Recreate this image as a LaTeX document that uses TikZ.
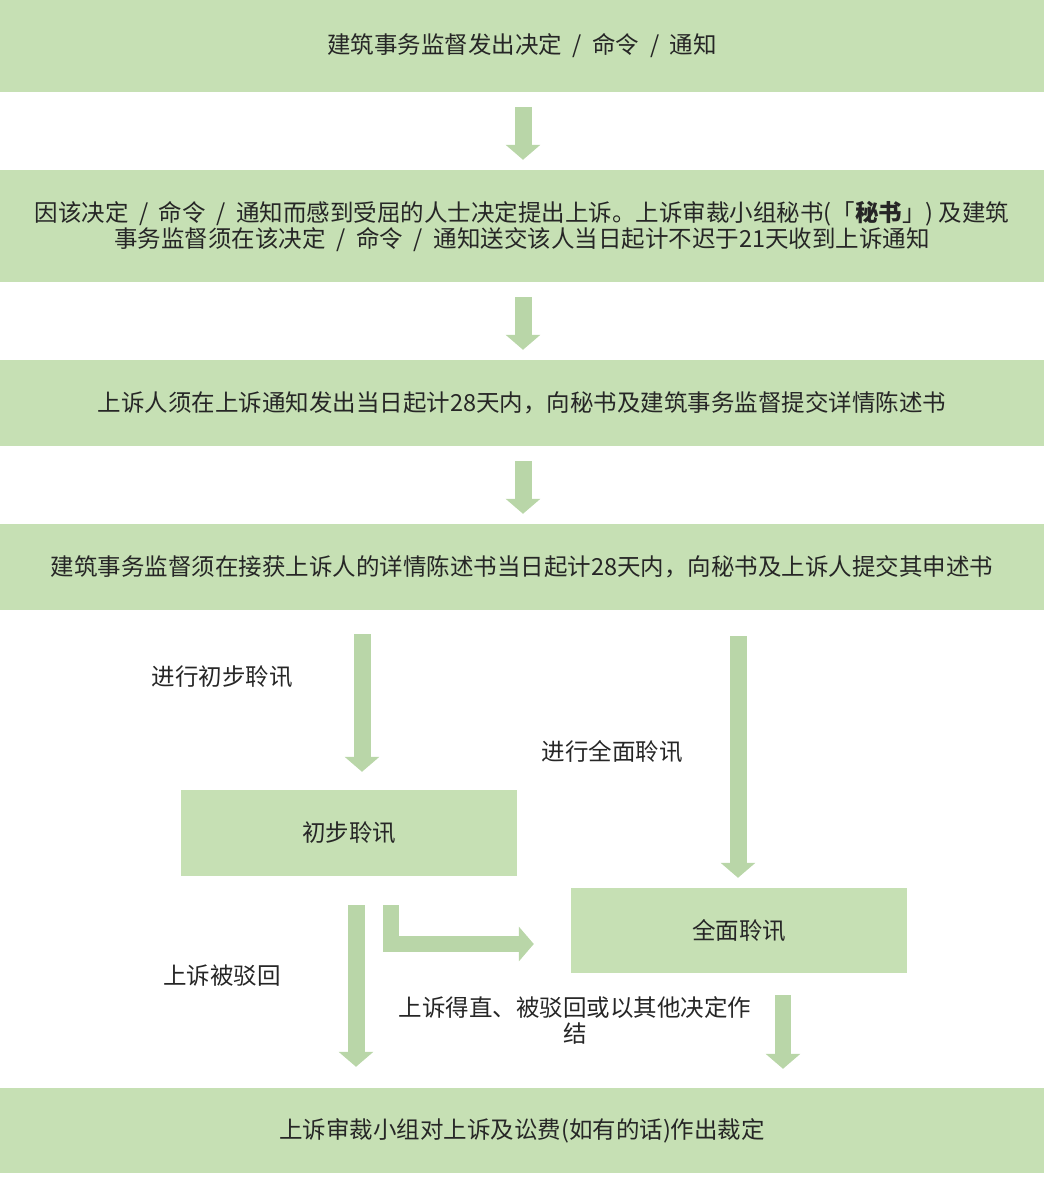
\documentclass[tikz,border=0pt]{standalone}
\usepackage{fontspec}
\setmainfont{Noto Sans CJK SC}
\usetikzlibrary{arrows.meta,calc}
\definecolor{boxgreen}{HTML}{C6E0B4}
\definecolor{arrgreen}{HTML}{B9D6A8}
\definecolor{txtgray}{HTML}{262626}
\newcommand{\sep}{\hspace{0.45em}/\hspace{0.45em}}

\begin{document}
\begin{tikzpicture}[x=1pt,y=-1pt,line join=miter,
  stepbox/.style={fill=boxgreen,draw=none,minimum width=1044pt,inner sep=0pt,text=txtgray,align=center},
  smallbox/.style={stepbox,minimum width=336pt},
  lbl/.style={text=txtgray,inner sep=0pt,align=center},
  blk/.style={draw=arrgreen,line width=17pt,-{Triangle[width=34pt,length=15pt]}}]
\useasboundingbox (0,0) rectangle (1044,1180);
\fontsize{23.5}{26}\selectfont
\node[stepbox,minimum height=92pt] (b1) at (522,46) {建筑事务监督发出决定\sep 命令\sep 通知};
\node[stepbox,minimum height=112pt] (b2) at (522,226) {因该决定\sep 命令\sep 通知而感到受屈的人士决定提出上诉。上诉审裁小组秘书(「\textbf{秘书}」) 及建筑\\事务监督须在该决定\sep 命令\sep 通知送交该人当日起计不迟于21天收到上诉通知};
\node[stepbox,minimum height=86pt] (b3) at (522,403) {上诉人须在上诉通知发出当日起计28天内，向秘书及建筑事务监督提交详情陈述书};
\node[stepbox,minimum height=86pt] (b4) at (522,567) {建筑事务监督须在接获上诉人的详情陈述书当日起计28天内，向秘书及上诉人提交其申述书};
\node[smallbox,minimum height=86pt] (b5) at (349,833) {初步聆讯};
\node[smallbox,minimum height=85pt] (b6) at (739,930.5) {全面聆讯};
\node[stepbox,minimum height=85pt] (b7) at (522,1130.5) {上诉审裁小组对上诉及讼费(如有的话)作出裁定};

\node[lbl] (l1) at (222,677) {进行初步聆讯};
\node[lbl] (l2) at (612,752) {进行全面聆讯};
\node[lbl] (l3) at (222,976) {上诉被驳回};
\node[lbl] (l4) at (575,1020) {上诉得直、被驳回或以其他决定作\\结};

\draw[blk] ($(b1.south)+(1,15)$) -- ($(b2.north)+(1,-10)$);
\draw[blk] ($(b2.south)+(1,15)$) -- ($(b3.north)+(1,-10)$);
\draw[blk] ($(b3.south)+(1,15)$) -- ($(b4.north)+(1,-10)$);
\draw[blk] ($(b4.south -| b5.north)+(13,24)$) -- ($(b5.north)+(13,-18)$);
\draw[blk] ($(b4.south -| b6.north)+(-1,26)$) -- ($(b6.north)+(-1,-10)$);
\draw[blk] ($(b5.south)+(7,29)$) -- ($(b7.north -| b5.south)+(7,-21)$);
\draw[blk,line width=16pt] ($(b5.south)+(42,29)$) |- ($(b6.west)+(-37,13.5)$);
\draw[blk,line width=16pt] ($(b6.south)+(44,22)$) -- ($(b7.north -| b6.south)+(44,-19)$);
\end{tikzpicture}
\end{document}
